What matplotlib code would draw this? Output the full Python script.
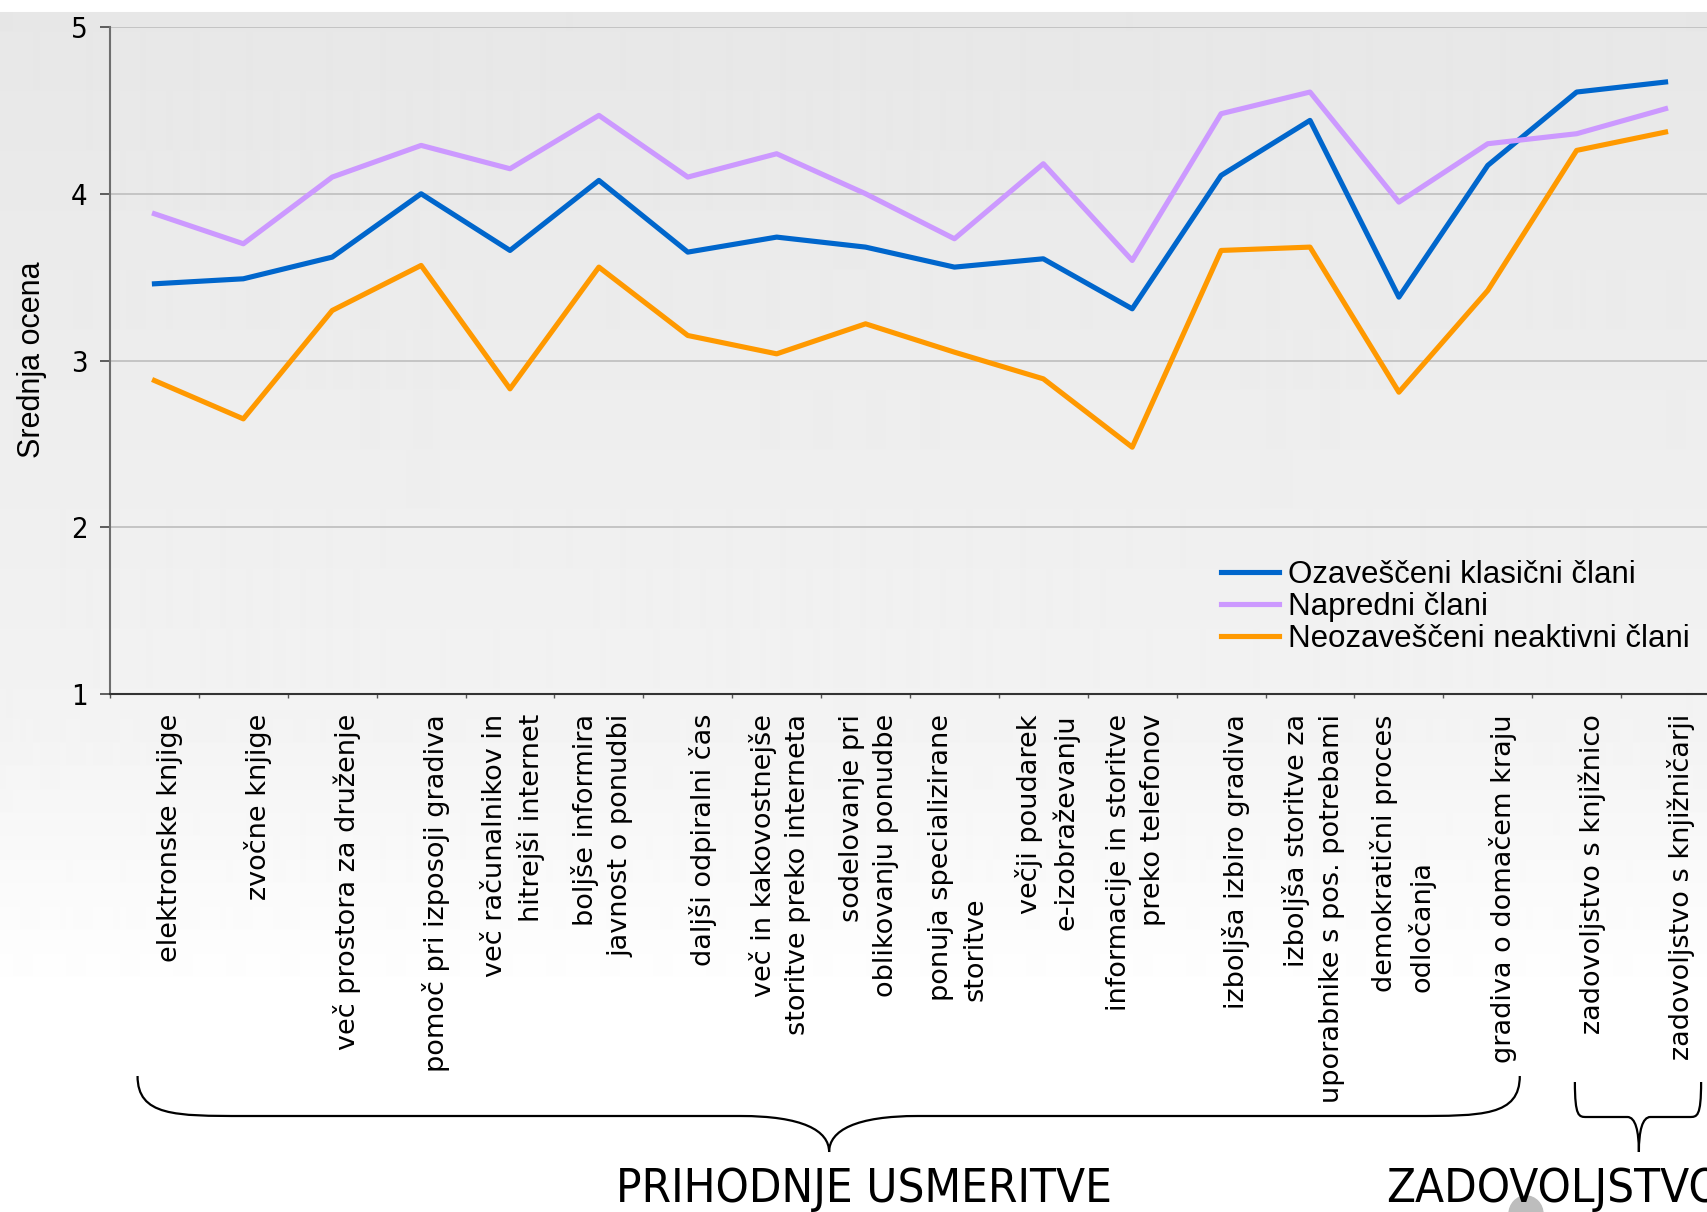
import numpy as np
import matplotlib
matplotlib.use("Agg")
import matplotlib.pyplot as plt
from matplotlib import font_manager as fm
from matplotlib.path import Path
from matplotlib.patches import PathPatch, Ellipse
from matplotlib.lines import Line2D
import matplotlib.transforms as mtransforms

# ======== Data ========
categories = [
    "elektronske knjige",
    "zvočne knjige",
    "več prostora za druženje",
    "pomoč pri izposoji gradiva",
    "več računalnikov in\nhitrejši internet",
    "boljše informira\njavnost o ponudbi",
    "daljši odpiralni čas",
    "več in kakovostnejše\nstoritve preko interneta",
    "sodelovanje pri\noblikovanju ponudbe",
    "ponuja specializirane\nstoritve",
    "večji poudarek\ne-izobraževanju",
    "informacije in storitve\npreko telefonov",
    "izboljša izbiro gradiva",
    "izboljša storitve za\nuporabnike s pos. potrebami",
    "demokratični proces\nodločanja",
    "gradiva o domačem kraju",
    "zadovoljstvo s knjižnico",
    "zadovoljstvo s knjižničarji",
]
label_align = ["right"] * 18
label_align[9] = "left"
label_align[14] = "left"

ozavesceni = [3.46, 3.49, 3.62, 4.00, 3.66, 4.08, 3.65, 3.74, 3.68, 3.56,
              3.61, 3.31, 4.11, 4.44, 3.38, 4.17, 4.61, 4.67]
napredni = [3.88, 3.70, 4.10, 4.29, 4.15, 4.47, 4.10, 4.24, 4.00, 3.73,
            4.18, 3.60, 4.48, 4.61, 3.95, 4.30, 4.36, 4.51]
neozavesceni = [2.88, 2.65, 3.30, 3.57, 2.83, 3.56, 3.15, 3.04, 3.22, 3.05,
                2.89, 2.48, 3.66, 3.68, 2.81, 3.42, 4.26, 4.37]

series_names = ["Ozaveščeni klasični člani", "Napredni člani",
                "Neozaveščeni neaktivni člani"]
series_colors = ["#0066CC", "#CC99FF", "#FF9900"]
group_titles = ["PRIHODNJE USMERITVE", "ZADOVOLJSTVO"]

# ======== Fonts ========
available = {f.name for f in fm.fontManager.ttflist}
if "Liberation Sans Narrow" in available:
    narrow = dict(family=["Liberation Sans Narrow", "DejaVu Sans"])
else:
    narrow = dict(family=["DejaVu Sans"], stretch="condensed")
arial = dict(family=["Liberation Sans", "DejaVu Sans"])

# ======== Figure ========
W, H = 1707, 1212
fig = plt.figure(figsize=(W / 100, H / 100), dpi=100)
fig.patch.set_facecolor("white")

# background gradient (grey at top fading to white)
bg = fig.add_axes([0, 0, 1, 1], zorder=-10)
rows = np.arange(H)
shade = np.interp(rows, [0, 11, 12, 700, 1000, H], [1.0, 1.0, 0.905, 0.95, 1.0, 1.0])
bg.imshow(shade[:, None], aspect="auto", cmap="gray", vmin=0, vmax=1,
          extent=[0, 1, 0, 1], origin="upper", interpolation="bilinear")
bg.set_axis_off()

ax = fig.add_axes([110 / W, 1 - 694 / H, 1600 / W, 667 / H])
ax.set_facecolor("none")
x = np.arange(len(categories))
for vals, name, col in zip([ozavesceni, napredni, neozavesceni], series_names, series_colors):
    ax.plot(x, vals, color=col, lw=3.7, label=name, zorder=3)

ax.set_xlim(-0.5, len(categories) - 0.5)
ax.set_ylim(1, 5)
ax.set_yticks([1, 2, 3, 4, 5])
ax.grid(axis="y", color="#C4C4C4", lw=1.4)
ax.set_axisbelow(True)
for s in ["top", "right"]:
    ax.spines[s].set_visible(False)
ax.spines["left"].set_color("#6E6E6E")
ax.spines["left"].set_linewidth(1.5)
ax.spines["bottom"].set_color("#333333")
ax.spines["bottom"].set_linewidth(1.5)
ax.tick_params(axis="y", length=7, width=1.2, color="#444444", pad=9)
for t in ax.get_yticklabels():
    t.set_fontproperties(fm.FontProperties(size=21, **narrow))
ax.set_xticks(x)
ax.set_xticklabels([])
ax.tick_params(axis="x", length=0)
ax.set_xticks(np.arange(len(categories) + 1) - 0.5, minor=True)
ax.tick_params(axis="x", which="minor", length=3, width=1, color="#555555")

# category labels
blend = mtransforms.blended_transform_factory(ax.transData, fig.transFigure)
for i, (lab, al) in enumerate(zip(categories, label_align)):
    shift = 0.04 if "\n" in lab else 0.17
    ax.text(i + shift, 1 - 714 / H, lab, transform=blend, rotation=90,
            va="top", ha="center", multialignment=al, fontsize=19.5,
            family="DejaVu Sans", linespacing=1.42, clip_on=False)

fig.text(32 / W, 1 - 360 / H, "Srednja ocena", rotation=90, va="center",
         ha="center", fontsize=22, **arial)

# legend
handles = [Line2D([], [], color=c, lw=3.7) for c in series_colors]
fig.legend(handles, series_names, loc="center left",
           bbox_to_anchor=(1221 / W, 1 - 607 / H), bbox_transform=fig.transFigure,
           frameon=False, borderpad=0, borderaxespad=0, handlelength=1.85,
           handletextpad=0.3, labelspacing=0.06,
           prop=fm.FontProperties(size=22.5, **arial))


# ======== Braces ========
def brace(x0, x1, xm, ytop, yline, ytip, r_end, r_mid):
    P = [(x0, ytop),
         (x0, yline), (x0 + r_end * 0.35, yline), (x0 + r_end, yline),
         (xm - r_mid, yline),
         (xm - r_mid * 0.3, yline), (xm, yline - (yline - ytip) * 0.4), (xm, ytip),
         (xm, yline - (yline - ytip) * 0.4), (xm + r_mid * 0.3, yline), (xm + r_mid, yline),
         (x1 - r_end, yline),
         (x1 - r_end * 0.35, yline), (x1, yline), (x1, ytop)]
    C = [Path.MOVETO, Path.CURVE4, Path.CURVE4, Path.CURVE4, Path.LINETO,
         Path.CURVE4, Path.CURVE4, Path.CURVE4, Path.CURVE4, Path.CURVE4, Path.CURVE4,
         Path.LINETO, Path.CURVE4, Path.CURVE4, Path.CURVE4]
    fig.add_artist(PathPatch(Path(P, C), transform=blend, fill=False,
                             lw=1.6, ec="black", clip_on=False))


brace(-0.19, 15.36, 7.59, 1 - 1076 / H, 1 - 1116 / H, 1 - 1152 / H, 1.2, 1.0)
brace(15.98, 17.40, 16.70, 1 - 1082 / H, 1 - 1117 / H, 1 - 1152 / H, 0.13, 0.13)

fig.text(864 / W, 1 - 1202 / H, group_titles[0], ha="center", va="baseline",
         fontsize=34, **narrow)
fig.add_artist(Ellipse((1526 / W, 1 - 1214 / H), 34 / W, 36 / H,
                       transform=fig.transFigure, color="#BDBDBD", zorder=1))
fig.text(1386 / W, 1 - 1202 / H, group_titles[1], ha="left", va="baseline",
         fontsize=34, zorder=2, **narrow)

fig.savefig("out.png", dpi=100)
